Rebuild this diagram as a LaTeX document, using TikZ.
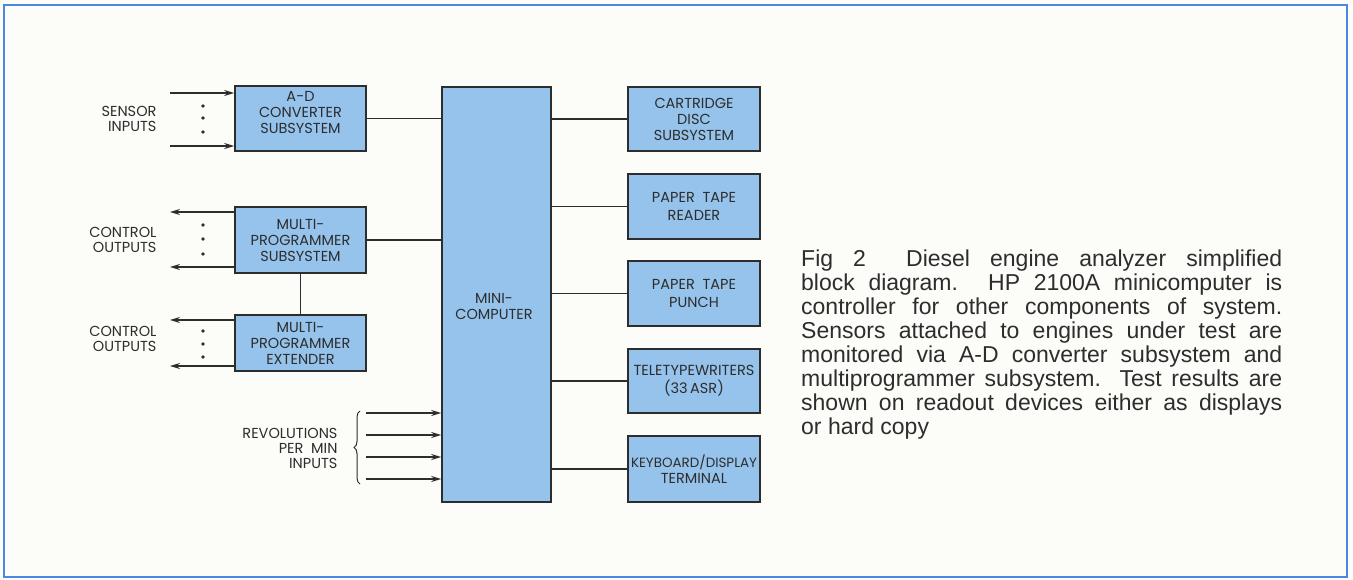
\documentclass[tikz,border=0pt]{standalone}
\usepackage{fontspec}
\setmainfont{Liberation Sans}
\newfontfamily\blkfont{Poppins}
\usepackage{tikz}
\usetikzlibrary{arrows.meta,calc,decorations.pathreplacing}
\definecolor{frameblue}{RGB}{75,135,225}
\definecolor{boxblue}{RGB}{150,195,235}
\definecolor{paper}{RGB}{252,252,248}
\definecolor{ink}{RGB}{45,45,45}
\begin{document}
\begin{tikzpicture}[x=1pt, y=-1pt,
    blk/.style={draw=ink, fill=boxblue, line width=1.6pt, minimum width=131pt,
                minimum height=#1, inner sep=1pt, align=center, text=ink,
                font=\blkfont\fontsize{14.5}{16}\selectfont},
    blk/.default={65pt},
    lbl/.style={anchor=east, align=right, text=ink,
                font=\blkfont\fontsize{14.5}{15}\selectfont},
    txt/.style={align=center, text=ink, inner sep=0pt,
                font=\blkfont\fontsize{14.5}{16}\selectfont},
    wire/.style={line width=1.5pt, ink},
    arr/.style={-{Stealth[length=10pt, width=6pt]}, line width=1.5pt, ink},
]
\useasboundingbox (0,0) rectangle (1353,580);
\fill[paper] (0,0) rectangle (1353,580);
\draw[frameblue, line width=2.5pt] (4,5) rectangle (1347,577);

% ===== Left column =====
\node[blk]       (ad)  at (300.5,118.5) {};
\node[txt]       (adt) at (300.5,112)   {A-D\\CONVERTER\\SUBSYSTEM};
\node[blk=66pt]  (mps) at (300.5,240)   {MULTI-\\PROGRAMMER\\SUBSYSTEM};
\node[blk=56pt]  (mpe) at (300.5,343)   {MULTI-\\PROGRAMMER\\EXTENDER};

% ===== Minicomputer =====
\node[blk=415pt, minimum width=109pt] (mc) at (496.5,294.5) {};
\node[txt] (mct) at (494,306) {MINI-\\COMPUTER};

% ===== Right column (readout devices) =====
\node[blk=64pt, minimum width=132pt] (cd)  at (694,119)   {CARTRIDGE\\DISC\\SUBSYSTEM};
\node[blk=65pt, minimum width=132pt] (ptr) at (694,206.5) {PAPER\ \ TAPE\\[2pt]READER};
\node[blk=65pt, minimum width=132pt] (ptp) at (694,293.5) {PAPER\ \ TAPE\\[2pt]PUNCH};
\node[blk=64pt, minimum width=132pt] (tty) at (694,381)
    {\resizebox{121pt}{!}{TELETYPEWRITERS}\\[2pt](33\,ASR)};
\node[blk=66pt, minimum width=132pt] (kbd) at (694,469)
    {\resizebox{126pt}{!}{KEYBOARD/DISPLAY}\\TERMINAL};

% ===== Free ends =====
\coordinate (s1) at (170,93);
\coordinate (s2) at (170,146);
\coordinate (c1) at (170,212);
\coordinate (c2) at (170,267);
\coordinate (c3) at (170,320);
\coordinate (c4) at (170,366);
\foreach \i/\y in {1/413,2/435,3/457,4/479}
    \coordinate (r\i) at (366,\y);

% ===== Labels =====
\node[lbl] (sil) at (160,118.5) {SENSOR\\INPUTS};
\node[lbl] (co1) at (160,239.5) {CONTROL\\OUTPUTS};
\node[lbl] (co2) at (160,338.5) {CONTROL\\OUTPUTS};
\node[lbl] (rpm) at (341,448)   {REVOLUTIONS\\PER\ \ MIN\\INPUTS};

% ===== Input / output arrows =====
\draw[arr] (s1) -- (ad.west |- s1);
\draw[arr] (s2) -- (ad.west |- s2);
\draw[arr] (mps.west |- c1) -- (c1);
\draw[arr] (mps.west |- c2) -- (c2);
\draw[arr] (mpe.west |- c3) -- (c3);
\draw[arr] (mpe.west |- c4) -- (c4);
\foreach \i in {1,...,4}
    \draw[arr] (r\i) -- (mc.west |- r\i);

% ===== Dots between lines =====
\foreach \y in {106,118,132, 225,239,254, 331,344,357}
    \fill[ink] (203,\y) circle (1.8pt);

% ===== Brace for rpm inputs =====
\draw[decorate, decoration={brace, amplitude=6pt}, line width=1pt, ink]
    (360,484) -- (360,411);

% ===== Bus connections =====
\draw[wire] (ad.east) -- (mc.west |- ad.east);
\draw[wire] (mps.east) -- (mc.west |- mps.east);
\draw[wire] (mps.south) -- (mpe.north);
\foreach \n in {cd,ptr,ptp,tty,kbd}
    \draw[wire] (mc.east |- \n.west) -- (\n.west);

% ===== Caption =====
\node[anchor=north west, text width=481pt, align=justify, inner sep=0pt, text=ink,
      font=\fontsize{23}{24}\selectfont] (cap) at (801,250)
    {Fig 2\ \ Diesel engine analyzer simplified\linebreak
     block diagram. HP 2100A minicomputer is\linebreak
     controller for other components of system.\linebreak
     Sensors attached to engines under test are\linebreak
     monitored via A-D converter subsystem and\linebreak
     multiprogrammer subsystem. Test results are\linebreak
     shown on readout devices either as displays\linebreak
     or hard copy};
\end{tikzpicture}
\end{document}
